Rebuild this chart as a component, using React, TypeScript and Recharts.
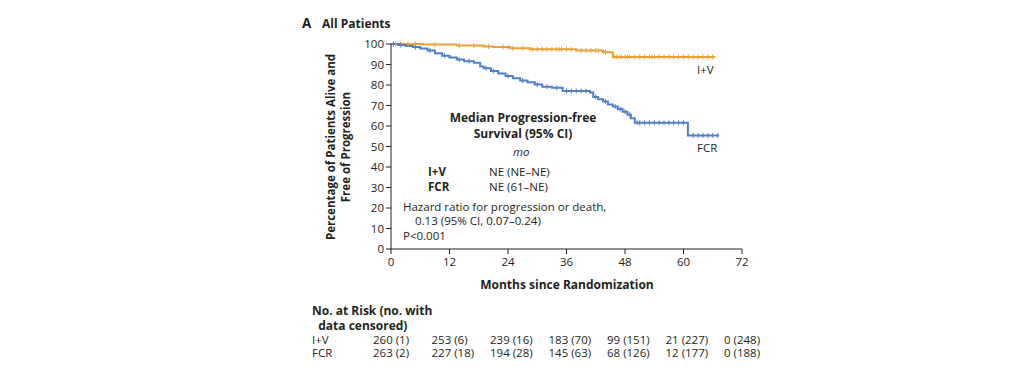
import React from "react";
import { LineChart, Line, XAxis, YAxis } from "recharts";

// Kaplan-Meier steps (months, % alive and free of progression)
const ivStepTimes = [0, 6.5, 13.5, 19, 21, 24.5, 28.5, 38, 43.5, 45.5, 66.5];
const ivStepValues = [100, 99.7, 99.3, 98.8, 98.5, 97.9, 97.4, 96.8, 96.0, 93.7, 93.7];
const ivCensored = [
  0.5, 1, 2, 3.5, 5, 9, 14, 17, 20, 23, 24, 25, 27, 29, 30, 31, 32, 33, 34, 34.5, 35, 36,
  37, 39, 40, 41, 42, 42.5, 44, 45.8, 46.3, 46.8, 47.3, 48, 48.5, 49, 50, 51, 52, 53, 53.5,
  54, 55, 56, 57, 58, 59, 60, 61, 62, 63, 64, 65, 66,
];

const fcrStepTimes = [
  0, 1.5, 3, 4.5, 6, 7.5, 9, 10.5, 12, 13.5, 15, 17, 18.3, 19, 20.5, 22, 23.5, 25, 26.5, 28,
  29.5, 31, 33, 35.2, 40.8, 41.5, 42.5, 43.5, 44.5, 45.5, 46.5, 47.5, 48.5, 49.2, 50, 60.9, 67.3,
];
const fcrStepValues = [
  100, 99.5, 99.0, 98.5, 97.8, 96.8, 95.5, 94.3, 93.4, 92.4, 91.6, 90.8, 89.0, 88.2, 86.8, 85.6,
  84.4, 83.3, 82.2, 81.3, 80.2, 79.2, 78.6, 77.1, 76.3, 74.2, 73.0, 72.0, 70.5, 69.5, 68.3, 67.0,
  65.5, 63.8, 61.6, 55.4, 55.4,
];
const fcrCensored = [
  0.5, 2, 5, 8, 11, 14, 16, 19.5, 21, 24, 27, 30, 32, 34, 36, 37, 38, 39, 40, 42, 44, 46, 47,
  48, 49, 50.5, 51, 52, 53, 54, 55, 56, 57, 58, 59, 60, 62, 63, 64, 65, 66, 67,
];

const xTicks = [0, 12, 24, 36, 48, 60, 72];
const yTicks = [0, 10, 20, 30, 40, 50, 60, 70, 80, 90, 100];
const ivAtRisk = ["260 (1)", "253 (6)", "239 (16)", "183 (70)", "99 (151)", "21 (227)", "0 (248)"];
const fcrAtRisk = ["263 (2)", "227 (18)", "194 (28)", "145 (63)", "68 (126)", "12 (177)", "0 (188)"];

const ORANGE = "#E9A03B";
const BLUE = "#4F7FC6";
const INK = "#231F20";
const FONT = "'Open Sans', sans-serif";

type Pt = { t: number; v: number; c: boolean };

function buildSeries(times: number[], values: number[], censored: number[]): Pt[] {
  const pts: Pt[] = times.map((t, i) => ({ t, v: values[i], c: false }));
  censored.forEach((t) => {
    let v = values[0];
    times.forEach((st, i) => {
      if (st <= t) v = values[i];
    });
    pts.push({ t, v, c: true });
  });
  return pts.sort((a, b) => a.t - b.t || (a.c ? 1 : -1));
}

const ivData = buildSeries(ivStepTimes, ivStepValues, ivCensored);
const fcrData = buildSeries(fcrStepTimes, fcrStepValues, fcrCensored);

const censorMark = (color: string) => (props: any) => {
  const { cx, cy, payload, index } = props;
  if (!payload || !payload.c) return <g key={`n${index}`} />;
  return <line key={`c${index}`} x1={cx} x2={cx} y1={cy - 2.5} y2={cy + 2.5} stroke={color} strokeWidth={1} />;
};

const XTick = (props: any) => {
  const { x, y, payload, index } = props;
  return (
    <g>
      <text x={x} y={y + 10} textAnchor="middle" fontSize={11.5} fill={INK} fontFamily={FONT}>
        {payload.value}
      </text>
      <text x={x - 18} y={y + 88} fontSize={11.5} fill={INK} fontFamily={FONT}>
        {ivAtRisk[index]}
      </text>
      <text x={x - 18} y={y + 101} fontSize={11.5} fill={INK} fontFamily={FONT}>
        {fcrAtRisk[index]}
      </text>
    </g>
  );
};

const abs = (left: number, top: number, extra: React.CSSProperties = {}): React.CSSProperties => ({
  position: "absolute",
  left,
  top,
  whiteSpace: "nowrap",
  lineHeight: 1,
  ...extra,
});

export default function App() {
  return (
    <div
      style={{
        position: "absolute",
        left: 0,
        top: 0,
        width: 1019,
        height: 390,
        background: "#fff",
        fontFamily: FONT,
        color: INK,
        fontSize: 11.5,
      }}
    >
      <LineChart width={1019} height={390} margin={{ top: 44, right: 277, bottom: 111, left: 351 }}>
        <XAxis
          type="number"
          dataKey="t"
          domain={[0, 72]}
          ticks={xTicks}
          height={30}
          allowDataOverflow
          stroke={INK}
          tickSize={5}
          tick={<XTick />}
        />
        <YAxis
          type="number"
          domain={[0, 100]}
          ticks={yTicks}
          width={40}
          stroke={INK}
          tickSize={5}
          tick={{ fontSize: 11.5, fill: INK, fontFamily: FONT }}
        />
        <Line
          data={ivData}
          dataKey="v"
          type="stepAfter"
          stroke={ORANGE}
          strokeWidth={2}
          dot={censorMark(ORANGE)}
          activeDot={false}
          isAnimationActive={false}
        />
        <Line
          data={fcrData}
          dataKey="v"
          type="stepAfter"
          stroke={BLUE}
          strokeWidth={2}
          dot={censorMark(BLUE)}
          activeDot={false}
          isAnimationActive={false}
        />
      </LineChart>

      <div style={abs(302, 17, { fontSize: 13.5, fontWeight: 700 })}>A</div>
      <div style={abs(322, 18, { fontSize: 12, fontWeight: 700 })}>All Patients</div>

      <div
        style={abs(338, 147, {
          transform: "translate(-50%, -50%) rotate(-90deg)",
          fontWeight: 700,
          fontSize: 11.5,
          textAlign: "center",
          lineHeight: "15px",
        })}
      >
        Percentage of Patients Alive and
        <br />
        Free of Progression
      </div>

      <div style={abs(567, 279, { transform: "translateX(-50%)", fontWeight: 700, fontSize: 12 })}>
        Months since Randomization
      </div>

      <div style={abs(523, 110, { transform: "translateX(-50%)", fontWeight: 700, fontSize: 12, textAlign: "center", lineHeight: "16px" })}>
        Median Progression-free
        <br />
        Survival (95% CI)
      </div>
      <div style={abs(513, 146, { fontStyle: "italic" })}>mo</div>
      <div style={abs(428, 166, { fontWeight: 700 })}>I+V</div>
      <div style={abs(489, 166)}>NE (NE–NE)</div>
      <div style={abs(428, 181, { fontWeight: 700 })}>FCR</div>
      <div style={abs(489, 181)}>NE (61–NE)</div>
      <div style={abs(403, 201)}>Hazard ratio for progression or death,</div>
      <div style={abs(415, 215)}>0.13 (95% CI, 0.07–0.24)</div>
      <div style={abs(403, 230)}>P&lt;0.001</div>

      <div style={abs(697, 64)}>I+V</div>
      <div style={abs(697, 142)}>FCR</div>

      <div style={abs(312, 303, { fontWeight: 700, fontSize: 12, lineHeight: "15px" })}>
        No. at Risk (no. with
        <br />
        &nbsp;&nbsp;data censored)
      </div>
      <div style={abs(312, 334)}>I+V</div>
      <div style={abs(312, 347)}>FCR</div>
    </div>
  );
}
